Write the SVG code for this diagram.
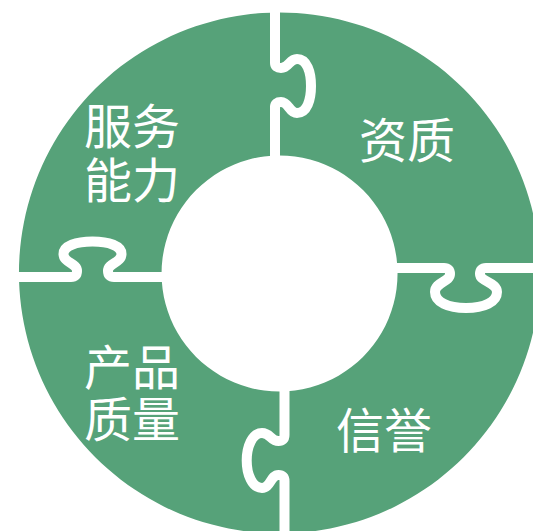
<svg xmlns="http://www.w3.org/2000/svg" width="533" height="531" viewBox="0 0 533 531">
  <style>
    .ring { fill: #56A279; fill-rule: evenodd; }
    .cut { fill: none; stroke: #FFFFFF; stroke-width: 10; stroke-linecap: round; stroke-linejoin: round; }
    .label { font-family: "Noto Sans CJK SC", "Noto Sans", sans-serif; font-size: 48px; fill: #FFFFFF; }
  </style>
  <rect width="533" height="531" fill="#FFFFFF"/>
  <g id="ring">
    <path class="ring" d="M279.5,12.5 A260.5,260.5 0 1 1 279.4,12.5 Z M279.5,155.5 A118,118 0 1 0 279.6,155.5 Z"/>
  </g>
  <g id="connectors">
    <path class="cut" d="M275,0 V63 Q275,68 281,68 C289,68 289,59 297,59 C307,59 311,72 311,86 C311,100 307,113 297,113 C289,113 289,102 281,102 Q275,102 275,107 V170"/>
    <path class="cut" d="M385,268 H444 Q450,268 450,274 C450,282 435,282 435,292 C435,302 448,308 466,308 C484,308 497,302 497,292 C497,282 480,282 480,274 Q480,268 486,268 H545"/>
    <path class="cut" d="M0,277 H71 Q77,277 77,271 C77,263 63.5,263 63.5,254 C63.5,246 76,241.5 92.5,241.5 C109,241.5 121.5,246 121.5,254 C121.5,263 108,263 108,271 Q108,277 114,277 H175"/>
    <path class="cut" d="M284.5,380 V435 Q284.5,441 278.5,441 C270.5,441 270.5,433 262,433 C252,433 246.7,447 246.7,460.5 C246.7,474 252,488 262,488 C270.5,488 270.5,475 278.5,475 Q284.5,475 284.5,481 V545"/>
  </g>
  <g id="piece-service">
    <text class="label" x="84" y="144">服务<tspan x="84" dy="54">能力</tspan></text>
  </g>
  <g id="piece-qualification">
    <text class="label" x="359" y="158">资质</text>
  </g>
  <g id="piece-reputation">
    <text class="label" x="336" y="448">信誉</text>
  </g>
  <g id="piece-product">
    <text class="label" x="84" y="385">产品<tspan x="84" dy="52">质量</tspan></text>
  </g>
</svg>
